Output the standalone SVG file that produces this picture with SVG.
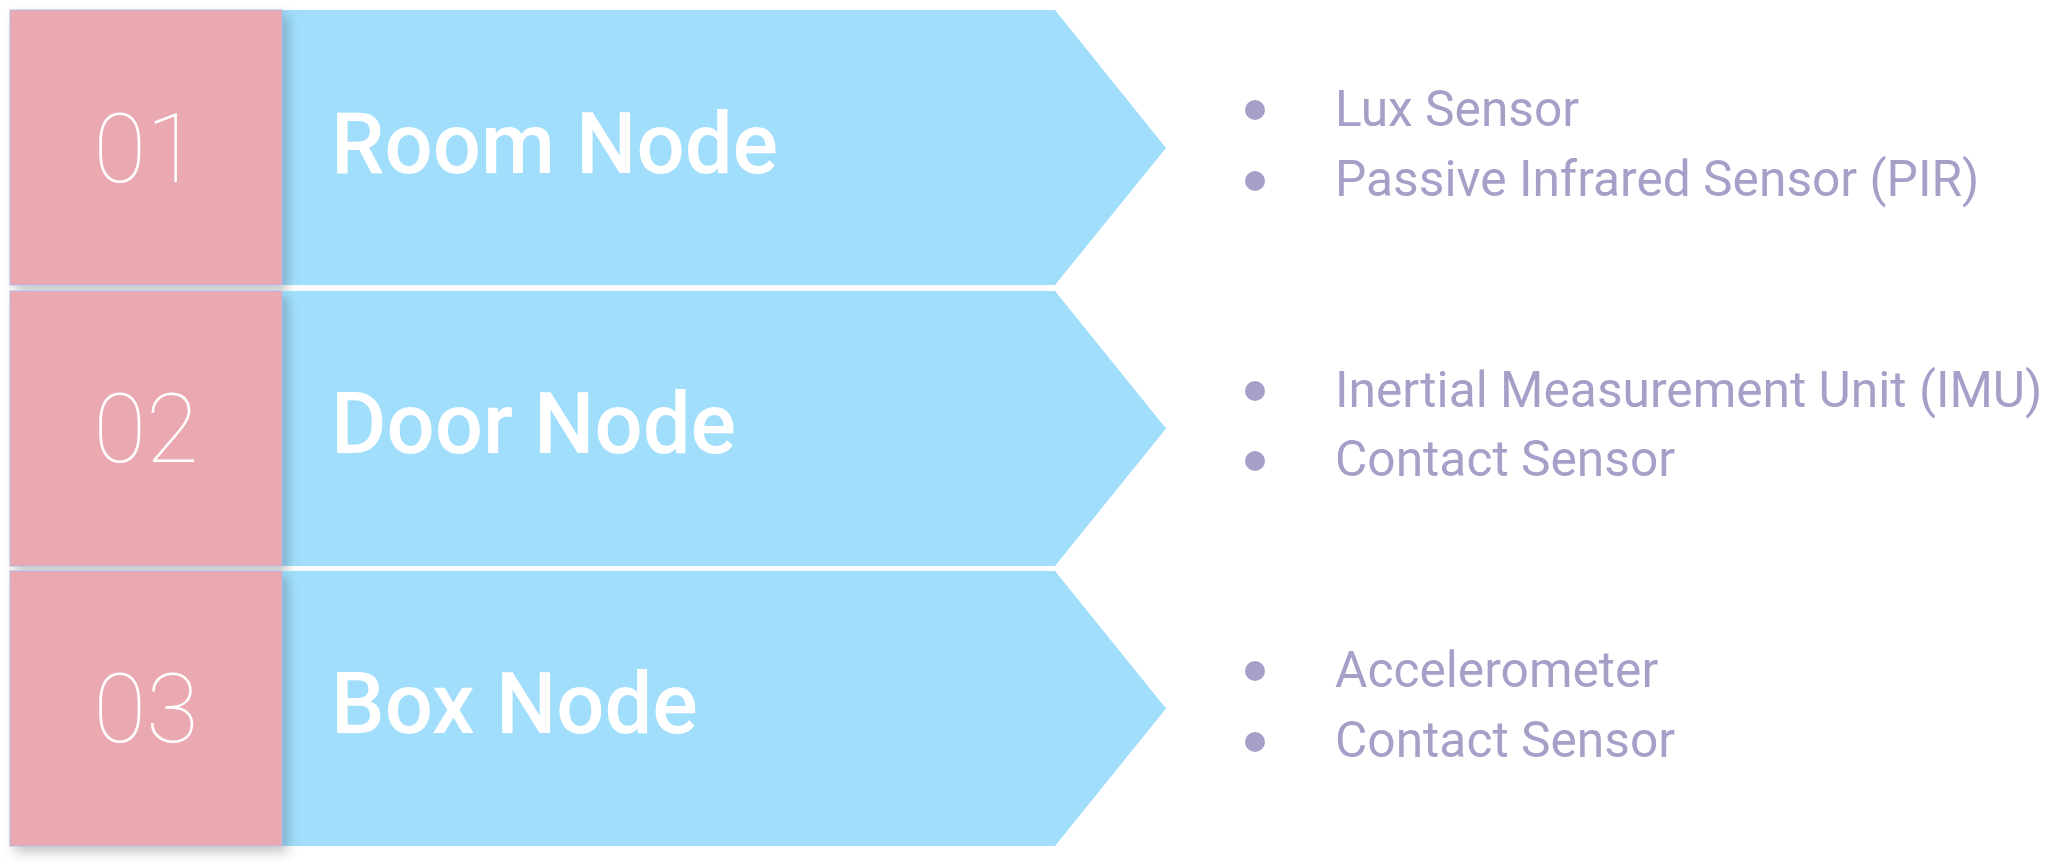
<svg xmlns="http://www.w3.org/2000/svg" width="2058" height="866" viewBox="0 0 2058 866">
<defs>
<style>
.arrow{fill:#A0DEFB;}
.num{fill:#EAA9B1;stroke:#B3B6E2;stroke-width:1;filter:url(#sh);}
.numt{font-family:Roboto,"Liberation Sans",sans-serif;font-weight:100;font-size:96px;fill:#FFFFFF;text-anchor:middle;}
.title{font-family:Roboto,"Liberation Sans",sans-serif;font-weight:500;font-size:85px;fill:#FFFFFF;}
.item{font-family:Roboto,"Liberation Sans",sans-serif;font-weight:400;font-size:49.7px;fill:#A89FC9;}
.dot{fill:#A89FC9;}
</style>
<filter id="sh" x="-10%" y="-10%" width="130%" height="130%">
<feDropShadow dx="5" dy="6" stdDeviation="6" flood-color="#000000" flood-opacity="0.22"/>
</filter>
</defs>
<rect width="2058" height="866" fill="#FFFFFF"/>
<g id="row1">
<polygon class="arrow" points="282,10 1055,10 1166,148 1055,285 282,285"/>
<rect class="num" x="10" y="10" width="272" height="275"/>
<text class="numt" x="146" y="182">01</text>
<text class="title" x="331" y="173">Room Node</text>
<circle class="dot" cx="1255" cy="110" r="10"/>
<circle class="dot" cx="1255" cy="181" r="10"/>
<text class="item" x="1335" y="126">Lux Sensor</text>
<text class="item" x="1335" y="196">Passive Infrared Sensor (PIR)</text>
</g>
<g id="row2">
<polygon class="arrow" points="282,291 1055,291 1166,428.5 1055,566 282,566"/>
<rect class="num" x="10" y="291" width="272" height="275"/>
<text class="numt" x="146" y="462">02</text>
<text class="title" x="331" y="453">Door Node</text>
<circle class="dot" cx="1255" cy="391" r="10"/>
<circle class="dot" cx="1255" cy="461" r="10"/>
<text class="item" x="1335" y="407">Inertial Measurement Unit (IMU)</text>
<text class="item" x="1335" y="476">Contact Sensor</text>
</g>
<g id="row3">
<polygon class="arrow" points="282,571 1055,571 1166,708.5 1055,846 282,846"/>
<rect class="num" x="10" y="571" width="272" height="275"/>
<text class="numt" x="146" y="742">03</text>
<text class="title" x="331" y="733">Box Node</text>
<circle class="dot" cx="1255" cy="671" r="10"/>
<circle class="dot" cx="1255" cy="742" r="10"/>
<text class="item" x="1335" y="687">Accelerometer</text>
<text class="item" x="1335" y="757">Contact Sensor</text>
</g>
<g id="connectors"></g>
</svg>
